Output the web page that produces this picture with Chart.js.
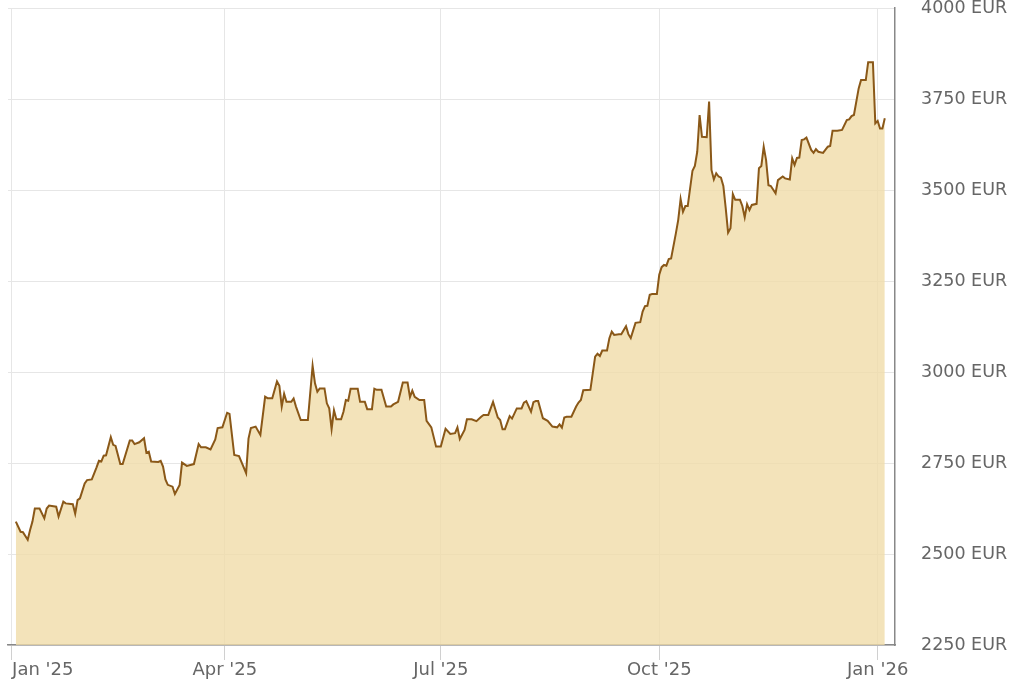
<!DOCTYPE html>
<html>
<head>
<meta charset="utf-8">
<title>Gold price in EUR</title>
<script src="https://cdn.jsdelivr.net/npm/chart.js@4.4.1/dist/chart.umd.min.js"></script>
<style>
    html, body { margin: 0; padding: 0; background: #fff; }
    .wrap { width: 1024px; height: 683px; position: relative; }
</style>
</head>
<body>
<div class="wrap"><canvas id="goldChart"></canvas></div>
<script>
// days counted from 1 Jan 2025
const days = [
    2, 4, 5, 7, 8, 9, 10, 12, 14, 15,
    16, 19, 20, 22, 23, 26, 27, 28, 29, 31,
    32, 34, 36, 37, 38, 39, 40, 42, 43, 44,
    46, 47, 50, 51, 52, 54, 56, 57, 58, 59,
    62, 63, 64, 65, 66, 68, 69, 71, 72, 74,
    77, 79, 80, 82, 84, 86, 87, 89, 91, 92,
    94, 96, 99, 100, 101, 103, 105, 107, 108, 110,
    112, 113, 114, 115, 116, 118, 119, 120, 122, 125,
    127, 128, 129, 130, 132, 133, 134, 135, 136, 137,
    139, 140, 141, 142, 143, 146, 147, 149, 150, 152,
    153, 154, 156, 158, 160, 161, 163, 165, 167, 168,
    169, 170, 172, 174, 175, 177, 179, 181, 183, 185,
    187, 188, 189, 191, 192, 194, 196, 198, 199, 201,
    203, 205, 206, 207, 208, 210, 211, 213, 215, 216,
    217, 219, 220, 221, 222, 224, 226, 228, 230, 231,
    232, 233, 234, 236, 238, 239, 240, 241, 244, 246,
    247, 248, 249, 251, 252, 253, 254, 256, 257, 259,
    260, 261, 263, 265, 266, 267, 268, 269, 270, 272,
    273, 274, 275, 276, 277, 278, 280, 281, 282, 283,
    284, 285, 287, 288, 289, 290, 291, 293, 294, 295,
    296, 297, 298, 299, 300, 301, 302, 303, 304, 305,
    307, 308, 309, 310, 311, 312, 314, 315, 316, 317,
    318, 319, 320, 322, 323, 325, 326, 328, 329, 330,
    331, 332, 333, 334, 335, 337, 338, 339, 340, 342,
    344, 345, 346, 348, 350, 352, 353, 354, 355, 357,
    358, 360, 361, 363, 364, 365, 366, 367, 368
];

// gold price, EUR per ounce
const prices = [
    2589, 2561, 2560, 2539, 2566, 2589, 2625, 2625, 2598, 2625,
    2633, 2630, 2603, 2644, 2639, 2637, 2611, 2648, 2653, 2694,
    2703, 2705, 2738, 2756, 2754, 2770, 2771, 2821, 2800, 2797,
    2747, 2747, 2812, 2812, 2802, 2807, 2818, 2778, 2781, 2754,
    2753, 2756, 2740, 2705, 2690, 2685, 2665, 2690, 2751, 2742,
    2747, 2802, 2793, 2793, 2787, 2815, 2846, 2848, 2888, 2885,
    2772, 2769, 2722, 2817, 2846, 2850, 2827, 2932, 2928, 2928,
    2974, 2962, 2905, 2940, 2918, 2918, 2927, 2905, 2868, 2868,
    3017, 2969, 2946, 2955, 2955, 2914, 2900, 2843, 2895, 2870,
    2870, 2891, 2923, 2921, 2954, 2954, 2918, 2918, 2898, 2898,
    2954, 2951, 2951, 2905, 2905, 2911, 2918, 2971, 2971, 2931,
    2949, 2932, 2923, 2923, 2866, 2848, 2795, 2795, 2844, 2830,
    2832, 2848, 2816, 2841, 2870, 2870, 2865, 2877, 2882, 2882,
    2918, 2875, 2868, 2843, 2843, 2879, 2872, 2900, 2900, 2916,
    2920, 2891, 2917, 2920, 2920, 2873, 2866, 2850, 2848, 2856,
    2847, 2875, 2877, 2877, 2905, 2916, 2923, 2950, 2951, 3042,
    3050, 3044, 3059, 3059, 3093, 3111, 3102, 3104, 3104, 3126,
    3104, 3093, 3135, 3137, 3166, 3181, 3182, 3212, 3214, 3214,
    3267, 3288, 3294, 3292, 3310, 3312, 3381, 3418, 3475, 3440,
    3456, 3456, 3553, 3566, 3605, 3706, 3646, 3645, 3743, 3555,
    3529, 3546, 3537, 3534, 3511, 3450, 3383, 3395, 3489, 3473,
    3473, 3456, 3425, 3461, 3445, 3459, 3462, 3560, 3566, 3619,
    3582, 3513, 3511, 3491, 3527, 3537, 3532, 3529, 3587, 3569,
    3588, 3589, 3637, 3639, 3644, 3610, 3602, 3612, 3605, 3602,
    3619, 3621, 3663, 3663, 3665, 3692, 3694, 3703, 3706, 3779,
    3802, 3802, 3851, 3851, 3683, 3690, 3669, 3669, 3697
];

// x axis ticks: first day of each quarter
const tickDays = [0, 90, 181, 273, 365];
const tickLabels = ["Jan '25", "Apr '25", "Jul '25", "Oct '25", "Jan '26"];

const textColor = '#666666';
const gridColor = '#e6e6e6';
const axisColor = '#888888';

// month labels: first one sits to the right of its tick, the others centred
const monthLabels = {
    id: 'monthLabels',
    afterDraw(chart) {
        const xs = chart.scales.x;
        const c = chart.ctx;
        c.save();
        c.font = '18px "DejaVu Sans"';
        c.fillStyle = textColor;
        c.textBaseline = 'middle';
        tickDays.forEach((d, i) => {
            const px = xs.getPixelForValue(d);
            c.textAlign = i === 0 ? 'left' : 'center';
            c.fillText(tickLabels[i], i === 0 ? px + 1 : px, xs.top + 25);
        });
        c.restore();
    }
};

new Chart(document.getElementById('goldChart'), {
    type: 'line',
    data: {
        datasets: [{
            label: 'Gold price',
            data: days.map((d, i) => ({ x: d, y: prices[i] })),
            borderColor: '#8a5818',
            borderWidth: 2,
            backgroundColor: 'rgba(240, 220, 169, 0.8)',
            fill: 'start',
            pointRadius: 0,
            tension: 0
        }]
    },
    options: {
        responsive: true,
        maintainAspectRatio: false,
        animation: false,
        layout: {
            autoPadding: false,
            padding: { left: 8, top: 8, right: 0, bottom: 0 }
        },
        plugins: {
            legend: { display: false },
            title: { display: false },
            tooltip: { enabled: false }
        },
        scales: {
            x: {
                type: 'linear',
                min: -1.3,
                max: 372.3,
                afterBuildTicks: (scale) => {
                    scale.ticks = tickDays.map(v => ({ value: v }));
                },
                afterFit: (scale) => {
                    scale.height = 38;
                    scale.paddingLeft = 0;
                    scale.paddingRight = 0;
                },
                ticks: { display: false },
                grid: {
                    color: gridColor,
                    lineWidth: 1,
                    drawTicks: true,
                    tickLength: 15,
                    tickColor: '#d0d0d0'
                },
                border: { color: axisColor, width: 1.5 }
            },
            y: {
                position: 'right',
                min: 2250,
                max: 4000,
                afterFit: (scale) => {
                    scale.width = 129;
                    scale.paddingTop = 0;
                    scale.paddingBottom = 0;
                },
                ticks: {
                    stepSize: 250,
                    padding: 26,
                    color: textColor,
                    font: { family: '"DejaVu Sans"', size: 17.5 },
                    callback: (v) => v + ' EUR'
                },
                grid: {
                    color: gridColor,
                    lineWidth: 1,
                    drawTicks: false
                },
                border: { color: axisColor, width: 1.5 }
            }
        }
    },
    plugins: [monthLabels]
});
</script>
</body>
</html>
